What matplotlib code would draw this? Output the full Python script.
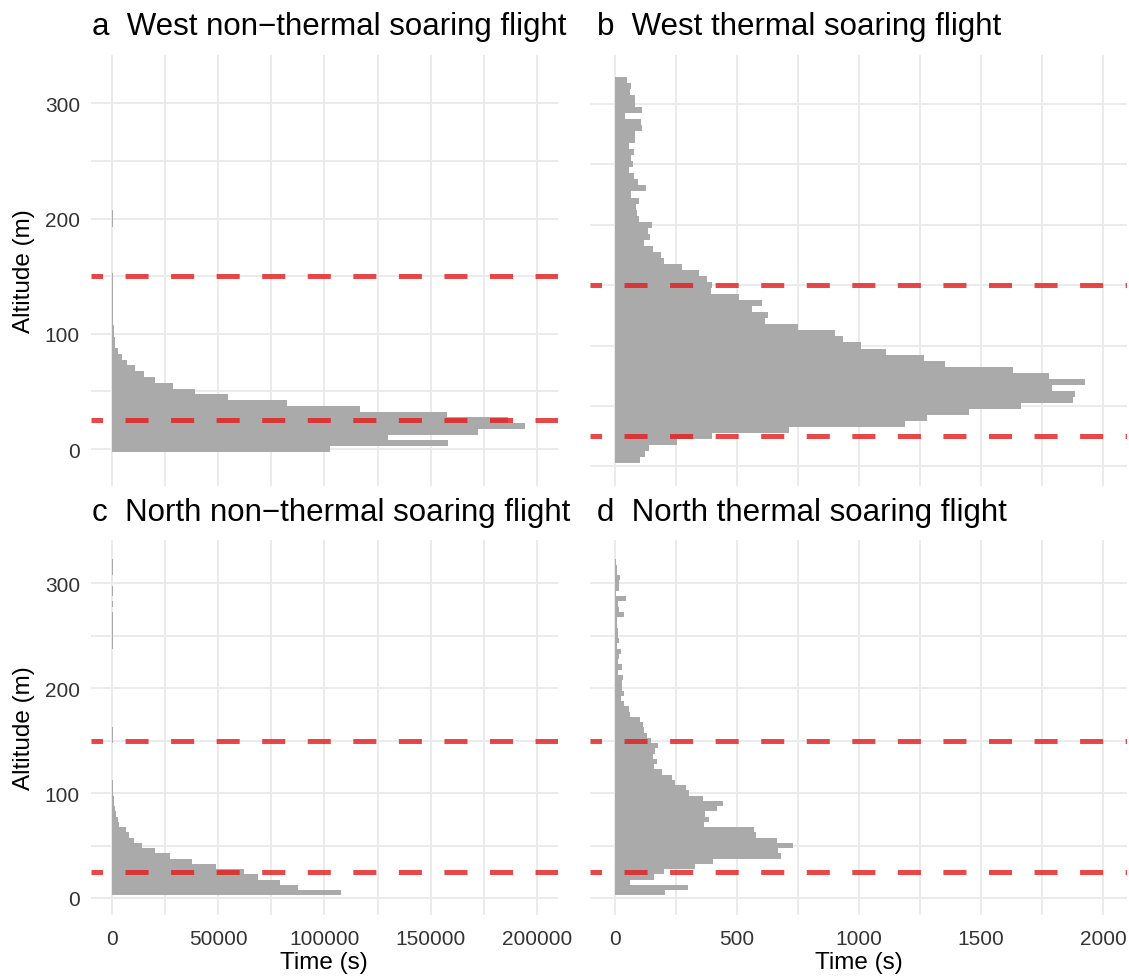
import matplotlib.pyplot as plt
import numpy as np
from matplotlib.ticker import MultipleLocator

plt.rcParams['font.family'] = ['Liberation Sans', 'DejaVu Sans']
plt.rcParams['lines.scale_dashes'] = False

# altitude bins are 5 m wide, values are total time (s) per bin
bin_w = 5
# a: West non-thermal, bins start at -2.5 m
west_nt_time = [102600, 158000, 129800, 172200, 194500, 186600, 157700, 116700, 82300, 54500,
                39000, 28400, 20100, 14900, 10700, 6800, 4600, 2700, 1400, 1100,
                800, 600, 500, 450, 400, 350, 300, 250, 200, 200,
                200, 0, 0, 0, 0, 0, 0, 0, 0, 300,
                300, 300]
west_nt_start = -2.5
# b: West thermal, bins start at 2.5 m
west_th_time = [102, 123, 139, 254, 396, 712, 1188, 1280, 1450, 1663,
                1875, 1884, 1788, 1925, 1777, 1630, 1351, 1264, 1110, 1007,
                934, 901, 749, 614, 627, 561, 602, 508, 393, 398,
                377, 344, 274, 201, 188, 156, 119, 143, 135, 152,
                98, 90, 86, 98, 66, 127, 94, 78, 57, 74,
                66, 78, 57, 82, 82, 111, 106, 41, 111, 82,
                82, 61, 66, 49]
west_th_start = 2.5
# c: North non-thermal
north_nt_time = [107800, 87500, 79000, 68700, 62000, 48900, 37600, 27200, 20100, 14000,
                 10200, 7900, 6500, 3200, 2700, 1700, 1300, 1000, 650, 500,
                 450, 400, 0, 0, 0, 0, 0, 0, 0, 250,
                 250, 250, 0, 0, 0, 0, 0, 0, 0, 0,
                 0, 0, 0, 0, 0, 0, 0, 250, 250, 250,
                 250, 250, 200, 200, 0, 200, 0, 200, 200, 0,
                 0, 250, 250, 250]
north_nt_start = 2.5
# d: North thermal
north_th_time = [205, 299, 61, 160, 201, 328, 401, 680, 667, 729,
                 663, 577, 569, 364, 385, 369, 418, 442, 360, 303,
                 291, 246, 233, 192, 160, 172, 156, 164, 176, 147,
                 131, 119, 115, 102, 61, 57, 37, 25, 37, 29,
                 29, 33, 12, 29, 12, 16, 25, 8, 16, 12,
                 12, 8, 8, 37, 16, 12, 45, 4, 16, 16,
                 20, 8, 8, 4]
north_th_start = 2.5

limits = [25, 150]
titles = ['a  West non\u2212thermal soaring flight', 'b  West thermal soaring flight',
          'c  North non\u2212thermal soaring flight', 'd  North thermal soaring flight']

W, H = 1129, 978
fig = plt.figure(figsize=(W / 100, H / 100), dpi=100)


def px_axes(x0, y0, x1, y1):
    return fig.add_axes([x0 / W, 1 - y1 / H, (x1 - x0) / W, (y1 - y0) / H])


panels = [
    (px_axes(91, 56, 557.7, 487), west_nt_time, west_nt_start, (-10040, 209900), (-32.1, 342), 50000),
    (px_axes(590, 56, 1127, 487), west_th_time, west_th_start, (-102, 2097), (-16.3, 340.5), 500),
    (px_axes(91, 541, 557.7, 916), north_nt_time, north_nt_start, (-10040, 209900), (-16.2, 341), 50000),
    (px_axes(590, 541, 1127, 916), north_th_time, north_th_start, (-102, 2097), (-16.2, 341), 500),
]

for i, (ax, vals, start, xl, yl, xstep) in enumerate(panels):
    edges = start + bin_w * np.arange(len(vals))
    ax.barh(edges, vals, height=bin_w, align='edge', color='#AAAAAA', lw=0, zorder=2)
    for y in limits:
        ax.axhline(y, color='#E41A1C', alpha=0.8, lw=3.6, ls=(8.3, (16.6, 16.2)),
                   dash_capstyle='butt', zorder=3)
    ax.set_xlim(*xl)
    ax.set_ylim(*yl)
    ax.xaxis.set_major_locator(MultipleLocator(xstep))
    ax.xaxis.set_minor_locator(MultipleLocator(xstep / 2))
    ax.yaxis.set_major_locator(MultipleLocator(100))
    ax.yaxis.set_minor_locator(MultipleLocator(50))
    ax.grid(which='both', color='#EBEBEB', lw=1.4)
    ax.set_axisbelow(True)
    for s in ax.spines.values():
        s.set_visible(False)
    ax.tick_params(which='both', length=0, labelsize=15, labelcolor='#333333')
    ax.tick_params(axis='y', pad=8)
    ax.tick_params(axis='x', pad=10)
    ax.set_facecolor('white')
    if i in (1, 3):
        ax.tick_params(labelleft=False)
    if i in (0, 1):
        ax.tick_params(labelbottom=False)
    ax.xaxis.set_major_formatter(plt.FuncFormatter(lambda v, p: '%d' % v))

title_pos = [(92, 35), (597, 35), (92, 521), (597, 521)]
for (x, y), t in zip(title_pos, titles):
    fig.text(x / W, 1 - y / H, t, fontsize=22.5, va='baseline', ha='left', color='black')

for yc in (271.5, 728.5):
    fig.text(24 / W, 1 - yc / H, 'Altitude (m)', rotation=90, ha='center', va='center',
             fontsize=17.5, color='black')
for xc in (324, 858.5):
    fig.text(xc / W, 1 - 963 / H, 'Time (s)', ha='center', va='center', fontsize=17.5,
             color='black')

fig.savefig('out.png', dpi=100, facecolor='white')
